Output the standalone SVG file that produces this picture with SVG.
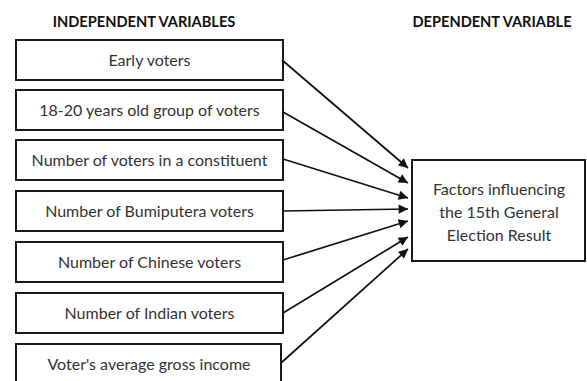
<svg xmlns="http://www.w3.org/2000/svg" width="587" height="381" viewBox="0 0 587 381">
<style>
.box{fill:#fff;stroke:#1a1a1a;stroke-width:2}
.t{font-family:Lato,"Open Sans",sans-serif;font-size:16px;fill:#333;text-anchor:middle}
.h{font-family:Lato,"Open Sans",sans-serif;font-size:14.6px;font-weight:bold;fill:#111;text-anchor:middle}
.c{stroke:#111;stroke-width:1.7;fill:none;marker-end:url(#ah)}
</style>
<defs>
<marker id="ah" viewBox="0 0 10 10" refX="10" refY="5" markerWidth="6.5" markerHeight="5.5" orient="auto" markerUnits="strokeWidth">
<path d="M0,0 L10,5 L0,10 z" fill="#111"/>
</marker>
</defs>
<rect width="587" height="381" fill="#fff"/>
<text class="h" x="144" y="27">INDEPENDENT VARIABLES</text>
<text class="h" x="492" y="27">DEPENDENT VARIABLE</text>
<g id="n1"><rect class="box" x="16" y="40" width="267" height="40"/><text class="t" x="149.5" y="66">Early voters</text></g>
<g id="n2"><rect class="box" x="16" y="90" width="267" height="40"/><text class="t" x="149.5" y="116">18-20 years old group of voters</text></g>
<g id="n3"><rect class="box" x="16" y="140" width="267" height="40"/><text class="t" x="149.5" y="166">Number of voters in a constituent</text></g>
<g id="n4"><rect class="box" x="16" y="191" width="267" height="40"/><text class="t" x="149.5" y="217">Number of Bumiputera voters</text></g>
<g id="n5"><rect class="box" x="16" y="242" width="267" height="40"/><text class="t" x="149.5" y="268">Number of Chinese voters</text></g>
<g id="n6"><rect class="box" x="16" y="293" width="267" height="40"/><text class="t" x="149.5" y="319">Number of Indian voters</text></g>
<g id="n7"><rect class="box" x="16" y="344" width="265" height="40"/><text class="t" x="149" y="370">Voter's average gross income</text></g>
<g id="target"><rect class="box" x="412" y="160" width="173" height="101"/>
<text class="t" x="499" y="195">Factors influencing</text>
<text class="t" x="499" y="218">the 15th General</text>
<text class="t" x="499" y="241">Election Result</text></g>
<g id="connectors">
<line class="c" x1="282" y1="60" x2="408" y2="168"/>
<line class="c" x1="283" y1="112" x2="408" y2="183"/>
<line class="c" x1="283" y1="159" x2="408" y2="198"/>
<line class="c" x1="283" y1="211" x2="408" y2="209"/>
<line class="c" x1="283" y1="260" x2="408" y2="221"/>
<line class="c" x1="283" y1="313" x2="408" y2="237"/>
<line class="c" x1="281" y1="363" x2="408" y2="249"/>
</g>
</svg>
